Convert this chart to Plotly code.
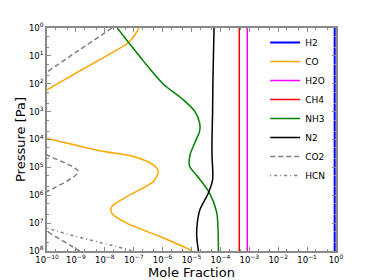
import numpy as np
import plotly.graph_objects as go

# ---- data (log10 values) ----
# constant species
h2_frac = 0.9
h2o_frac = 8.5e-4
ch4_frac = 4.5e-4

# CO profile
co_logp = [0.0, 0.25, 0.54, 0.93, 1.47, 2.22, 2.6, 3.0, 3.4, 3.75, 3.96, 4.40, 4.61, 4.91, 5.15,
           5.51, 6.05, 6.41, 6.64, 7.00, 7.48, 7.96, 8.0]
co_logx = [-6.82, -6.96, -7.20, -7.82, -8.75, -10.0, -10.65, -11.1, -11.4, -10.9, -10.0, -8.17, -7.01,
           -6.32, -6.15, -6.32, -7.24, -7.76, -7.76, -7.24, -6.09, -5.05, -4.98]

# NH3 profile
nh3_logp = [0.0, 0.5, 1.18, 2.0, 2.58, 3.0, 3.4, 3.7, 4.1, 4.55, 4.95, 5.3, 5.9, 6.6, 7.3, 8.0]
nh3_logx = [-7.57, -7.19, -6.67, -5.99, -5.28, -4.88, -4.72, -4.72, -4.88, -5.05, -5.07, -4.81,
            -4.39, -4.13, -4.08, -4.07]

# N2 profile
n2_logp = [0.0, 1.0, 2.0, 3.0, 4.0, 4.6, 5.0, 5.45, 5.93, 6.52, 7.0, 7.48, 8.0]
n2_logx = [-4.22, -4.24, -4.26, -4.27, -4.29, -4.29, -4.27, -4.27, -4.42, -4.71, -4.80, -4.82, -4.76]

# CO2 profile
co2_logp = [0.0, 0.8, 1.58, 2.3, 3.2, 4.0, 4.55, 5.15, 5.87, 6.3, 6.8, 7.3, 7.96, 8.0]
co2_logx = [-7.75, -8.9, -10.0, -11.0, -11.5, -10.8, -10.0, -8.92, -10.0, -10.8, -10.8, -10.0, -8.93, -8.87]

# HCN profile
hcn_logp = [6.0, 6.5, 7.17, 7.96, 8.0]
hcn_logx = [-12.5, -11.3, -10.0, -7.15, -7.05]

# axis ticks
x_exps = list(range(-10, 1))
y_exps = list(range(0, 9))

p_const = [1.0, 1e8]


def tv(lst):
    return [10.0 ** v for v in lst]


fig = go.Figure()
lw = 1.5
fig.add_trace(go.Scatter(x=[h2_frac, h2_frac], y=p_const, mode="lines", name="H2",
                         line=dict(color="#0000ff", width=2)))
fig.add_trace(go.Scatter(x=tv(co_logx), y=tv(co_logp), mode="lines", name="CO",
                         line=dict(color="#ffa500", width=lw, shape="spline", smoothing=0.8)))
fig.add_trace(go.Scatter(x=[h2o_frac, h2o_frac], y=p_const, mode="lines", name="H2O",
                         line=dict(color="#ff00ff", width=lw)))
fig.add_trace(go.Scatter(x=[ch4_frac, ch4_frac], y=p_const, mode="lines", name="CH4",
                         line=dict(color="#ff0000", width=lw)))
fig.add_trace(go.Scatter(x=tv(nh3_logx), y=tv(nh3_logp), mode="lines", name="NH3",
                         line=dict(color="#008000", width=lw, shape="spline", smoothing=0.8)))
fig.add_trace(go.Scatter(x=tv(n2_logx), y=tv(n2_logp), mode="lines", name="N2",
                         line=dict(color="#000000", width=lw, shape="spline", smoothing=0.8)))
fig.add_trace(go.Scatter(x=tv(co2_logx), y=tv(co2_logp), mode="lines", name="CO2",
                         line=dict(color="#808080", width=lw, dash="5px,3px", shape="spline", smoothing=0.8)))
fig.add_trace(go.Scatter(x=tv(hcn_logx), y=tv(hcn_logp), mode="lines", name="HCN",
                         line=dict(color="#808080", width=lw, dash="1px,3px,3px,3px", shape="spline", smoothing=0.8)))

font_family = "DejaVu Sans"
axis_common = dict(
    type="log", showline=True, linecolor="#8a8a8a", linewidth=1.5, mirror="ticks",
    ticks="inside", ticklen=4, tickwidth=1, tickcolor="#8a8a8a",
    showgrid=False, zeroline=False, automargin=False,
    tickfont=dict(family=font_family, size=8.5, color="#000000"),
    minor=dict(ticks="inside", ticklen=2, tickwidth=1, tickcolor="#8a8a8a", showgrid=False),
)

fig.update_xaxes(
    range=[-10, 0],
    tickvals=[10.0 ** e for e in x_exps],
    ticktext=["10<sup>%s</sup>" % (str(e).replace("-", "\u2212")) for e in x_exps],
    title=dict(text="Mole Fraction", font=dict(family=font_family, size=13, color="#000000"), standoff=2),
    **axis_common,
)
fig.update_yaxes(
    range=[8, 0],
    tickvals=[10.0 ** e for e in y_exps],
    ticktext=["10<sup>%d</sup>" % e for e in y_exps],
    title=dict(text="Pressure [Pa]", font=dict(family=font_family, size=13, color="#000000"), standoff=0),
    **axis_common,
)

# the page body has an 8px default margin, so the figure is drawn 8px in from the corner
fig.update_layout(
    width=366, height=272,
    margin=dict(l=39, r=38, t=20, b=29),
    paper_bgcolor="#ffffff", plot_bgcolor="#ffffff",
    font=dict(family=font_family, color="#000000"),
    legend=dict(x=0.755, y=1.0, xanchor="left", yanchor="top",
                bgcolor="rgba(0,0,0,0)", borderwidth=0,
                font=dict(family=font_family, size=9, color="#000000"),
                tracegroupgap=0),
)

fig.write_html("out.html")
